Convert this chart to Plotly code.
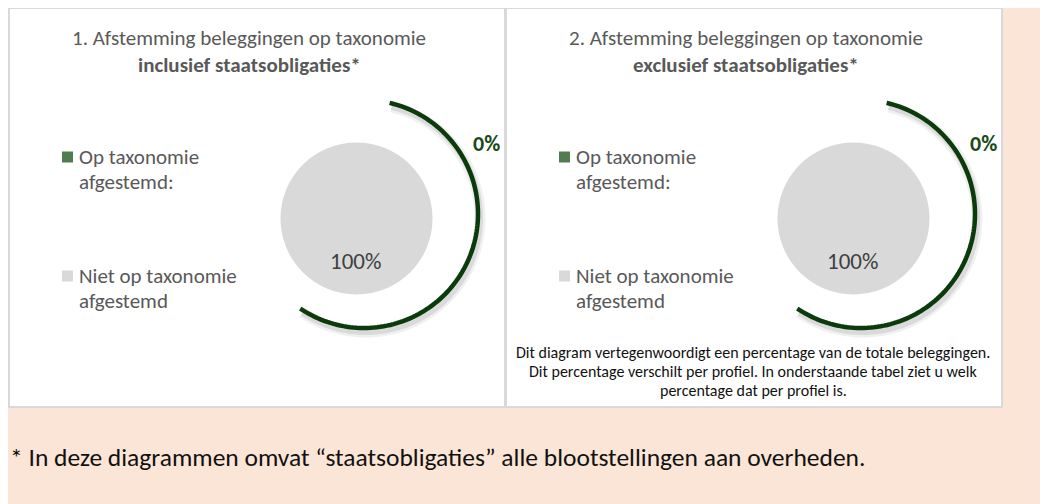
import numpy as np
import plotly.graph_objects as go

# ---------------- data ----------------
categories = ["Op taxonomie afgestemd:", "Niet op taxonomie afgestemd"]
legend_lines = [["Op taxonomie", "afgestemd:"], ["Niet op taxonomie", "afgestemd"]]
title_line1 = ["1. Afstemming beleggingen op taxonomie", "2. Afstemming beleggingen op taxonomie"]
title_line2 = ["inclusief staatsobligaties*", "exclusief staatsobligaties*"]
values_incl = [0, 100]   # % aligned, % not aligned (incl. government bonds)
values_excl = [0, 100]   # % aligned, % not aligned (excl. government bonds)
note_lines = [
    "Dit diagram vertegenwoordigt een percentage van de totale beleggingen.",
    "Dit percentage verschilt per profiel. In onderstaande tabel ziet u welk",
    "percentage dat per profiel is.",
]
footnote = "* In deze diagrammen omvat \u201cstaatsobligaties\u201d alle blootstellingen aan overheden."

# ---------------- style ----------------
OFF = 8                     # page body margin
W, H = 1048 - OFF, 504 - OFF
FONT = "Carlito, Lato, Calibri, sans-serif"
PEACH = "#FBE5D6"
GREEN_ARC = "#0B3B0B"
GREEN_LBL = "#1A4A1A"
GREEN_SQ = "#507C50"
GREY = "#D9D9D9"
TXT = "#595959"
slice_colors = [GREEN_SQ, GREY]


def X(px):
    return (px - OFF) / W


def Y(py):
    return 1 - (py - OFF) / H


fig = go.Figure()
shapes = []
annotations = []

panel_dx = 497
for i, vals in enumerate([values_incl, values_excl]):
    ox = i * panel_dx
    # panel
    shapes.append(dict(type="rect", xref="paper", yref="paper",
                       x0=X(9 + ox), x1=X(505 + ox), y0=Y(407), y1=Y(8),
                       fillcolor="white", line=dict(color=GREY, width=2), layer="below"))
    # pie (grey full circle)
    cx, cy, r = 356.5 + ox, 218.5, 76
    fig.add_trace(go.Pie(
        labels=categories, values=vals, sort=False, direction="clockwise",
        marker=dict(colors=slice_colors, line=dict(width=0)),
        textinfo="none", hoverinfo="label+percent", showlegend=False,
        domain=dict(x=[X(cx - r), X(cx + r)], y=[Y(cy + r), Y(cy - r)]),
    ))
    # arc decoration (soft shadow + arc) in polar subplots
    ax_c, ay_c, ar = 364 + ox, 214, 114
    scale = 1.2
    half = ar * scale
    theta = np.linspace(13, 214, 120)
    layers = [(2, 4, "rgba(0,0,0,0.06)", 11), (2, 4, "rgba(0,0,0,0.09)", 6), (0, 0, GREEN_ARC, 4.5)]
    for j, (dx, dy, col, wid) in enumerate(layers):
        n = 3 * i + j + 1
        pid = f"polar{n}" if n > 1 else "polar"
        fig.add_trace(go.Scatterpolar(
            r=np.ones_like(theta), theta=theta, mode="lines",
            line=dict(color=col, width=wid), hoverinfo="skip", showlegend=False,
            subplot=pid, cliponaxis=False,
        ))
        fig.update_layout(**{pid: dict(
            domain=dict(x=[X(ax_c + dx - half), X(ax_c + dx + half)],
                        y=[Y(ay_c + dy + half), Y(ay_c + dy - half)]),
            bgcolor="rgba(0,0,0,0)",
            radialaxis=dict(range=[0, scale], visible=False, showgrid=False),
            angularaxis=dict(visible=False, rotation=90, direction="clockwise", showgrid=False),
        )})
    # data labels
    annotations.append(dict(x=X(486 + ox), y=Y(143), text=f"<b>{vals[0]}%</b>", showarrow=False,
                            xanchor="center", yanchor="middle",
                            font=dict(family=FONT, size=22, color=GREEN_LBL)))
    annotations.append(dict(x=X(355 + ox), y=Y(261), text=f"{vals[1]}%", showarrow=False,
                            xanchor="center", yanchor="middle",
                            font=dict(family=FONT, size=23, color="#404040")))
    # titles
    annotations.append(dict(x=X(249 + ox), y=Y(38), text=title_line1[i], showarrow=False,
                            xanchor="center", yanchor="middle",
                            font=dict(family=FONT, size=21, color=TXT)))
    annotations.append(dict(x=X(249 + ox), y=Y(65), text=f"<b>{title_line2[i]}</b>", showarrow=False,
                            xanchor="center", yanchor="middle",
                            font=dict(family=FONT, size=21, color=TXT)))
    # legend
    for k, lines in enumerate(legend_lines):
        ly = 157 + k * 119
        shapes.append(dict(type="rect", xref="paper", yref="paper",
                           x0=X(62 + ox), x1=X(73 + ox), y0=Y(ly + 5.5), y1=Y(ly - 5.5),
                           fillcolor=slice_colors[k], line_width=0))
        for m, t in enumerate(lines):
            annotations.append(dict(x=X(77 + ox), y=Y(ly + m * 25), text=t, showarrow=False,
                                    xanchor="left", yanchor="middle",
                                    font=dict(family=FONT, size=21, color=TXT)))

# note in right panel
for m, t in enumerate(note_lines):
    annotations.append(dict(x=X(753), y=Y(352 + m * 19), text=t, showarrow=False,
                            xanchor="center", yanchor="middle",
                            font=dict(family=FONT, size=16, color="#111111")))

# footnote
annotations.append(dict(x=X(8), y=Y(457), text=footnote, showarrow=False,
                        xanchor="left", yanchor="middle",
                        font=dict(family=FONT, size=25.5, color="#111111")))

fig.update_layout(
    width=W, height=H, margin=dict(l=0, r=0, t=0, b=0),
    paper_bgcolor=PEACH, plot_bgcolor=PEACH,
    shapes=shapes, annotations=annotations, showlegend=False,
)

fig.write_html("out.html")
